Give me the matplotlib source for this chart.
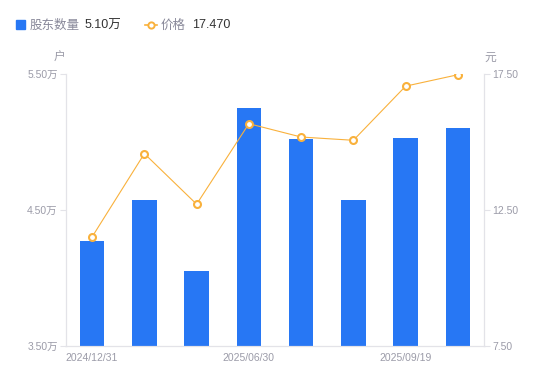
import matplotlib.pyplot as plt
from matplotlib.patches import Rectangle
from matplotlib.lines import Line2D

plt.rcParams['font.family'] = ['Liberation Sans', 'Noto Sans CJK SC', 'DejaVu Sans']

dates = ['2024/12/31', '2025/03/31', '2025/04/30', '2025/06/30',
         '2025/07/31', '2025/08/31', '2025/09/19', '2025/09/30']
holders = [4.27, 4.57, 4.05, 5.25, 5.02, 4.57, 5.03, 5.10]
price = [11.51, 14.57, 12.71, 15.67, 15.18, 15.06, 17.05, 17.47]
shown_ticks = [0, 3, 6]
left_ticks = [3.5, 4.5, 5.5]
right_ticks = [7.5, 12.5, 17.5]

BLUE = '#2777F4'
ORANGE = '#F9B13C'
AXIS = '#E3E3E8'
TXT = '#9B9BA8'

fig = plt.figure(figsize=(5.5, 3.81), dpi=100)
ax = fig.add_axes([0.12, 0.092, 0.76, 0.714])
ax2 = ax.twinx()

x = list(range(len(dates)))
ax.bar(x, holders, width=0.47, color=BLUE, zorder=2)
ax.set_xlim(-0.5, len(dates) - 0.5)
ax.set_ylim(3.5, 5.5)
ax.set_yticks(left_ticks)
ax.set_yticklabels([f'{v:.2f}万' for v in left_ticks])

ax2.plot(x, price, color=ORANGE, lw=0.8, marker='o', ms=5, mfc='white',
         mec=ORANGE, mew=1.5, zorder=3)
ax2.set_ylim(7.5, 17.5)
ax2.set_yticks(right_ticks)
ax2.set_yticklabels([f'{v:.2f}' for v in right_ticks])

ax.set_xticks(shown_ticks)
ax.set_xticklabels([dates[i] for i in shown_ticks])

for a in (ax, ax2):
    for s in a.spines.values():
        s.set_color(AXIS)
    a.spines['top'].set_visible(False)
ax.tick_params(axis='x', length=0, pad=5, labelsize=7.5, labelcolor=TXT)
ax.tick_params(axis='y', length=4, color=AXIS, pad=2, labelsize=7.5, labelcolor=TXT)
ax2.tick_params(axis='y', length=4, color=AXIS, pad=2, labelsize=7.5, labelcolor=TXT)

fig.text(59 / 550, 1 - 58 / 381, '户', color=TXT, fontsize=8.5, ha='center', va='center')
fig.text(490 / 550, 1 - 58 / 381, '元', color=TXT, fontsize=8.5, ha='center', va='center')

# legend drawn by hand
ly = 1 - 25.5 / 381
fig.patches.append(Rectangle((16 / 550, 1 - 29 / 381), 9 / 550, 9 / 381,
                             transform=fig.transFigure, color=BLUE))
fig.text(30 / 550, ly, '股东数量', color='#888899', fontsize=9, va='center')
fig.text(85 / 550, ly, '5.10万', color='#333333', fontsize=9, va='center')
fig.lines.append(Line2D([145 / 550, 157 / 550], [1 - 24.5 / 381] * 2, transform=fig.transFigure,
                        color=ORANGE, lw=1.2))
fig.lines.append(Line2D([151 / 550], [1 - 24.5 / 381], transform=fig.transFigure, marker='o',
                        ms=4.5, mfc='white', mec=ORANGE, mew=1.4))
fig.text(161 / 550, ly, '价格', color='#888899', fontsize=9, va='center')
fig.text(192 / 550, ly, '17.470', color='#333333', fontsize=9, va='center')

fig.savefig('out.png', dpi=100)
